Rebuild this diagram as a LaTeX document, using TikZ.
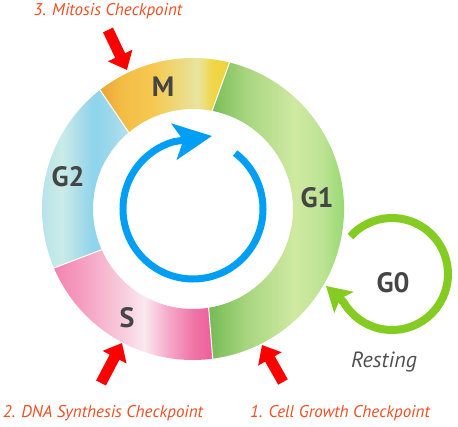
\documentclass[tikz,border=0pt]{standalone}
\usepackage{fontspec}
\setmainfont{PT Sans}
\usetikzlibrary{arrows.meta}

\definecolor{checkorange}{HTML}{F04E23}
\definecolor{arrowred}{HTML}{FF0000}
\definecolor{cycleblue}{HTML}{009FF5}
\definecolor{restgreen}{HTML}{84CC22}
\definecolor{phasegray}{HTML}{454545}
\definecolor{restgray}{HTML}{505050}

% G1 colours
\definecolor{gA}{HTML}{74BA55}
\definecolor{gB}{HTML}{A6D57E}
\definecolor{gC}{HTML}{D0E9A2}
\definecolor{gD}{HTML}{BDE394}
\definecolor{gE}{HTML}{8FD66A}
\definecolor{gF}{HTML}{9BD876}
% M colours
\definecolor{mA}{HTML}{EBA535}
\definecolor{mB}{HTML}{F3BD45}
\definecolor{mC}{HTML}{F6C850}
\definecolor{mD}{HTML}{EED87A}
\definecolor{mE}{HTML}{E8E4A0}
\definecolor{mF}{HTML}{F0D648}
\definecolor{mG}{HTML}{EFD23A}
% G2 colours
\definecolor{bA}{HTML}{A6DBEC}
\definecolor{bB}{HTML}{B8E3EA}
\definecolor{bC}{HTML}{CBECE8}
\definecolor{bD}{HTML}{A8DCEA}
\definecolor{bE}{HTML}{8DD4EC}
\definecolor{bF}{HTML}{9ED8EA}
\definecolor{bG}{HTML}{B5E2EA}
% S colours
\definecolor{sA}{HTML}{F383B0}
\definecolor{sB}{HTML}{F59CBF}
\definecolor{sC}{HTML}{F7B8D0}
\definecolor{sD}{HTML}{F8D4E2}
\definecolor{sE}{HTML}{FBE8EF}
\definecolor{sF}{HTML}{F4A8C8}
\definecolor{sG}{HTML}{EF74A6}
\definecolor{sH}{HTML}{EE5F9A}

% ring shadings, 25bp is the left edge, 75bp the right edge
\pgfdeclarehorizontalshading{gonefill}{100bp}{color(0bp)=(gA); color(25bp)=(gA); color(37bp)=(gB); color(53.5bp)=(gC); color(62.6bp)=(gD); color(71.7bp)=(gE); color(75bp)=(gF); color(100bp)=(gF)}
\pgfdeclarehorizontalshading{mfill}{100bp}{color(0bp)=(mA); color(25bp)=(mA); color(33.5bp)=(mB); color(45.2bp)=(mC); color(54.8bp)=(mD); color(62.6bp)=(mE); color(68.4bp)=(mF); color(75bp)=(mG); color(100bp)=(mG)}
\pgfdeclarehorizontalshading{gtwofill}{100bp}{color(0bp)=(bA); color(25bp)=(bA); color(32.4bp)=(bB); color(42bp)=(bC); color(51.1bp)=(bD); color(58bp)=(bE); color(66.5bp)=(bF); color(75bp)=(bG); color(100bp)=(bG)}
\pgfdeclarehorizontalshading{sfill}{100bp}{color(0bp)=(sA); color(25bp)=(sA); color(33.1bp)=(sB); color(40.9bp)=(sC); color(48.75bp)=(sD); color(53.4bp)=(sE); color(61.25bp)=(sF); color(69bp)=(sG); color(75bp)=(sH); color(100bp)=(sH)}

\tikzset{
  phase/.style={text=phasegray, font=\bfseries\fontsize{28}{28}\selectfont, inner sep=0pt},
  resting/.style={text=restgray, font=\itshape\fontsize{22}{22}\selectfont, inner sep=0pt},
  checkpoint/.style={text=checkorange, font=\itshape\fontsize{17}{17}\selectfont, inner sep=0pt},
  border/.style={draw=white, line width=1pt},
  redarrow/.style={draw=arrowred, line width=11pt, -{Triangle[length=16pt,width=26pt]}},
  cyclearrow/.style={draw=cycleblue, line width=7pt, -{Stealth[length=38pt,width=36pt,inset=9pt]}},
  restarrow/.style={draw=restgreen, line width=8pt, -{Stealth[length=24pt,width=28pt,inset=5pt]}},
}

\begin{document}
\begin{tikzpicture}[x=1pt, y=1pt]
\useasboundingbox (0,0) rectangle (458,426);

% arrow ends
\coordinate (cyclehead) at (212,290);
\coordinate (restcentre) at (392,152);
\coordinate (resthead) at (326,140);

% Cell cycle ring
\begin{scope}[shift={(193,217)}]
% G1
\shade[shading=gonefill] (-81:100) arc[start angle=-81, end angle=79, radius=100] -- (76:151) arc[start angle=76, end angle=-82.5, radius=151] -- cycle;
% M
\shade[shading=mfill] (79:100) arc[start angle=79, end angle=130, radius=100] -- (128:151) arc[start angle=128, end angle=76, radius=151] -- cycle;
% G2
\shade[shading=gtwofill] (130:100) arc[start angle=130, end angle=204, radius=100] -- (203:151) arc[start angle=203, end angle=128, radius=151] -- cycle;
% S
\shade[shading=sfill] (204:100) arc[start angle=204, end angle=279, radius=100] -- (277.5:151) arc[start angle=277.5, end angle=203, radius=151] -- cycle;

% white borders
\draw[border] (79:100) -- (76:151);
\draw[border] (130:100) -- (128:151);
\draw[border] (204:100) -- (203:151);
\draw[border] (279:100) -- (277.5:151);

% Blue cycle arrow
\draw[cyclearrow] (53:70) arc[start angle=53, end angle=-254, radius=70] -- (cyclehead);
\end{scope}

% Phase names
\node[phase, anchor=base] (gone) at (317,218) {G1};
\node[phase, anchor=base] (mphase) at (163,329) {M};
\node[phase, anchor=base] (gtwo) at (68,239) {G2};
\node[phase, anchor=base] (sphase) at (127,98) {S};

% G0 resting loop
\draw[restarrow] ([shift={(138:56)}]restcentre) arc[start angle=138, end angle=-150, radius=56] -- (resthead);
\node[phase, anchor=base] (gzero) at (393,133) {G0};
\node[resting, anchor=base] (rest) at (384,59) {Resting};

% Checkpoints
\coordinate (mtail) at (108,396);
\coordinate (mtip) at (127,356);
\coordinate (dtail) at (101,43);
\coordinate (dtip) at (122,83);
\coordinate (gtail) at (283,44);
\coordinate (gtip) at (262,81);

\draw[redarrow] (mtail) -- (mtip);
\draw[redarrow] (dtail) -- (dtip);
\draw[redarrow] (gtail) -- (gtip);

\node[checkpoint, anchor=base] (mitosis) at (108,410) {3. Mitosis Checkpoint};
\node[checkpoint, anchor=base] (dna) at (103,9) {2. DNA Synthesis Checkpoint};
\node[checkpoint, anchor=base] (growth) at (340,9) {1. Cell Growth Checkpoint};

\end{tikzpicture}
\end{document}
